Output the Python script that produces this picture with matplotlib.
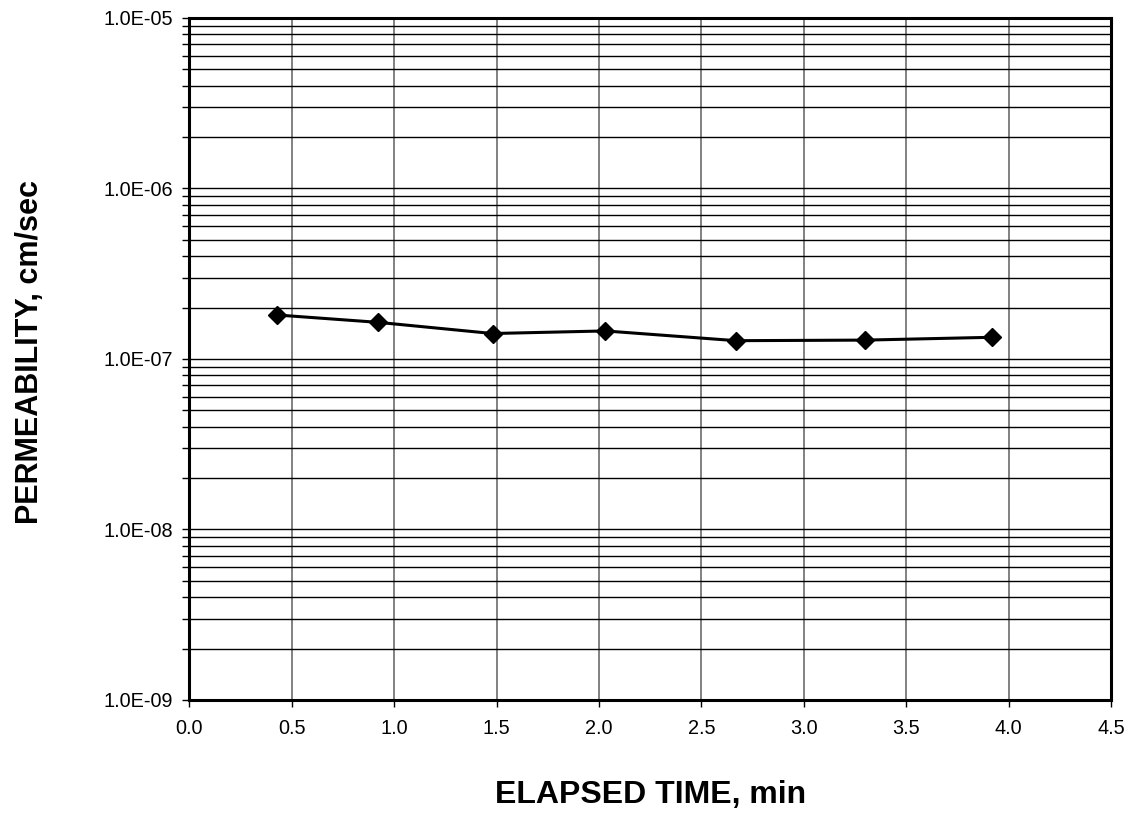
import matplotlib
matplotlib.use("Agg")
import matplotlib.pyplot as plt
from matplotlib.ticker import FuncFormatter, LogLocator, MultipleLocator, NullFormatter

plt.rcParams["font.family"] = ["Liberation Sans", "DejaVu Sans"]

# data
elapsed_min = [0.43, 0.92, 1.48, 2.03, 2.67, 3.30, 3.92]
permeability = [1.81e-7, 1.64e-7, 1.41e-7, 1.46e-7, 1.28e-7, 1.29e-7, 1.34e-7]

fig = plt.figure(figsize=(11.29, 8.16), dpi=100)
ax = fig.add_axes([0.1678, 0.1422, 0.8162, 0.8358])

ax.plot(elapsed_min, permeability, color="black", lw=2.2, marker="D",
        markersize=9, zorder=5, clip_on=False)

ax.set_yscale("log")
ax.set_xlim(0, 4.5)
ax.set_ylim(1e-9, 1e-5)
ax.xaxis.set_major_locator(MultipleLocator(0.5))
ax.xaxis.set_major_formatter(FuncFormatter(lambda v, p: f"{v:.1f}"))
ax.yaxis.set_major_locator(LogLocator(base=10, numticks=10))
ax.yaxis.set_minor_locator(LogLocator(base=10, subs=range(2, 10), numticks=20))
ax.yaxis.set_major_formatter(FuncFormatter(lambda v, p: f"{v:.1E}"))
ax.yaxis.set_minor_formatter(NullFormatter())

ax.grid(True, which="major", axis="x", color="#777777", lw=1.3)
ax.grid(True, which="both", axis="y", color="black", lw=1.0)

ax.tick_params(axis="both", which="both", direction="out", color="black",
               labelsize=14.3, width=1, length=5)
ax.tick_params(axis="x", pad=9)
ax.tick_params(axis="y", pad=7)
for s in ax.spines.values():
    s.set_linewidth(2.2)

ax.set_xlabel("ELAPSED TIME, min", fontsize=23, fontweight="bold")
ax.set_ylabel("PERMEABILITY, cm/sec", fontsize=22, fontweight="bold")
ax.xaxis.set_label_coords(0.5, -0.117)
ax.yaxis.set_label_coords(-0.157, 0.51)

fig.savefig("out.png", dpi=100)
